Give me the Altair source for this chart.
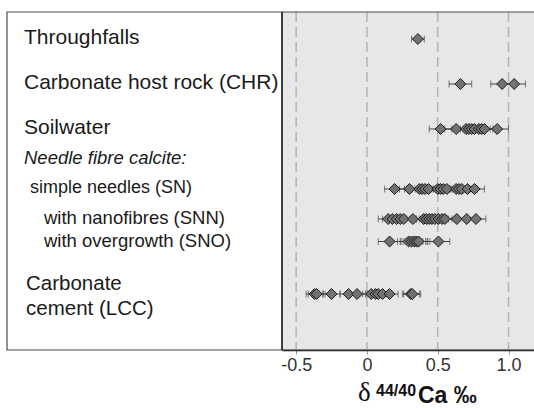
import altair as alt
import pandas as pd

# ---------------- data ----------------
ROWS = [
    "Throughfalls",
    "Carbonate host rock (CHR)",
    "Soilwater",
    "Needle fibre calcite:",
    "simple needles (SN)",
    "with nanofibres (SNN)",
    "with overgrowth (SNO)",
    "Carbonate cement (LCC)",
]

TF = [0.36]
CHR = [0.66, 0.955, 1.04]
SW = [0.52, 0.63, 0.70, 0.72, 0.74, 0.76, 0.79, 0.81, 0.83, 0.92]
SN = [0.195, 0.30, 0.37, 0.39, 0.41, 0.435, 0.50, 0.52, 0.54, 0.565,
      0.63, 0.65, 0.67, 0.71, 0.76]
SNN = [0.15, 0.18, 0.21, 0.235, 0.26, 0.325, 0.40, 0.42, 0.44, 0.46,
       0.48, 0.505, 0.53, 0.55, 0.635, 0.705, 0.77]
SNO = [0.16, 0.295, 0.315, 0.335, 0.35, 0.365, 0.505]
LCC = [-0.37, -0.355, -0.25, -0.13, -0.07, 0.03, 0.06, 0.08, 0.11,
       0.16, 0.31, 0.32]

# analytical uncertainty (2 s.d.) per group
ERR = {
    "Throughfalls": 0.045,
    "Carbonate host rock (CHR)": 0.08,
    "Soilwater": 0.08,
    "simple needles (SN)": 0.07,
    "with nanofibres (SNN)": 0.07,
    "with overgrowth (SNO)": 0.08,
    "Carbonate cement (LCC)": 0.06,
}

SERIES = {
    "Throughfalls": TF,
    "Carbonate host rock (CHR)": CHR,
    "Soilwater": SW,
    "simple needles (SN)": SN,
    "with nanofibres (SNN)": SNN,
    "with overgrowth (SNO)": SNO,
    "Carbonate cement (LCC)": LCC,
}

TICK_VALUES = [-0.5, 0, 0.5, 1.0]
TICK_LABELS = ["-0.5", "0", "0.5", "1.0"]

# ---------------- layout (styling, not data) ----------------
GAPS = [6, 6, 4, 4, 4, 3, 7]  # row steps between consecutive categories
DOMAIN = [ROWS[0]]
for i, g in enumerate(GAPS):
    DOMAIN += [f"_gap{i}_{k}" for k in range(g - 1)]
    DOMAIN.append(ROWS[i + 1])

W, H = 252, 338
FONT = "Liberation Sans"

records = []
for grp, vals in SERIES.items():
    for v in vals:
        records.append({"group": grp, "d": v, "lo": v - ERR[grp], "hi": v + ERR[grp]})
df = pd.DataFrame(records)

yscale = alt.Scale(domain=DOMAIN, range=[27, 282], type="point", padding=0)
xscale = alt.Scale(domain=[-0.6, 1.18], nice=False, zero=False)

label_expr = " : ".join(
    f"datum.value == {v} ? '{t}'" for v, t in zip(TICK_VALUES, TICK_LABELS)
) + " : ''"

# dashed grid lines at the tick values, full plot height
grid_df = pd.DataFrame({"v": TICK_VALUES})
grid = alt.Chart(grid_df).mark_rule(color="#b4b4b4", strokeWidth=1.5,
                                    strokeDash=[10, 5]).encode(
    x=alt.X("v:Q", scale=xscale,
            axis=alt.Axis(values=TICK_VALUES, labelExpr=label_expr, title=None,
                          grid=False,
                          domainColor="#111111", domainWidth=1.5,
                          tickColor="#9a9a9a", tickSize=4,
                          labelFont=FONT, labelFontSize=18, labelColor="#333333",
                          labelPadding=2)),
    y=alt.value(0), y2=alt.value(H),
)

base = alt.Chart(df)
err_rule = base.mark_rule(color="#444444", strokeWidth=1).encode(
    x=alt.X("lo:Q", scale=xscale),
    x2="hi:Q",
    y=alt.Y("group:N", scale=yscale, axis=None),
)
cap_lo = base.mark_tick(color="#444444", thickness=1, size=7).encode(
    x=alt.X("lo:Q", scale=xscale), y=alt.Y("group:N", scale=yscale))
cap_hi = base.mark_tick(color="#444444", thickness=1, size=7).encode(
    x=alt.X("hi:Q", scale=xscale), y=alt.Y("group:N", scale=yscale))
pts = base.mark_point(shape="diamond", filled=True, fill="#727272", stroke="#1c1c1c",
                      strokeWidth=1, size=120, opacity=1).encode(
    x=alt.X("d:Q", scale=xscale), y=alt.Y("group:N", scale=yscale))

one = pd.DataFrame({"k": [0]})
frame = alt.Chart(one).mark_rect(fill="white", fillOpacity=0, stroke="#4a4a4a",
                                 strokeWidth=1.2).encode(
    x=alt.value(-275), x2=alt.value(W + 10), y=alt.value(0), y2=alt.value(H))
left_line = alt.Chart(one).mark_rule(color="#000000", strokeWidth=1.5).encode(
    x=alt.value(0), y=alt.value(0), y2=alt.value(H))


def labels(names, xpos, size, style="normal"):
    d = pd.DataFrame({"group": names, "text": names})
    return alt.Chart(d).mark_text(align="left", baseline="middle", font=FONT,
                                  fontSize=size, fontStyle=style, color="#1a1a1a",
                                  dy=-1).encode(
        x=alt.value(xpos), y=alt.Y("group:N", scale=yscale), text="text:N")


lab_main = labels(ROWS[0:3], -258, 21)
lab_nfc = labels([ROWS[3]], -258, 18.5, "italic")
lab_sn = labels([ROWS[4]], -252, 18)
lab_sub = labels(ROWS[5:7], -238, 18.5)
lcc_df = pd.DataFrame({"group": [ROWS[7]], "text": ["Carbonate\ncement (LCC)"]})
lab_lcc = alt.Chart(lcc_df).mark_text(align="left", baseline="middle", font=FONT,
                                      fontSize=20.5, color="#1a1a1a", lineBreak="\n",
                                      lineHeight=25, dy=-10).encode(
    x=alt.value(-256), y=alt.Y("group:N", scale=yscale), text="text:N")

# axis title: delta 44/40 Ca permil
t_delta = alt.Chart(one).mark_text(align="left", baseline="alphabetic",
                                   font="Liberation Serif", fontSize=27,
                                   color="#111111").encode(
    x=alt.value(76), y=alt.value(389), text=alt.value("δ"))
t_sup = alt.Chart(one).mark_text(align="left", baseline="alphabetic", font=FONT,
                                 fontSize=16, fontWeight="bold",
                                 color="#111111").encode(
    x=alt.value(94), y=alt.value(384), text=alt.value("44/40"))
t_ca = alt.Chart(one).mark_text(align="left", baseline="alphabetic", font=FONT,
                                fontSize=23, fontWeight="bold",
                                color="#111111").encode(
    x=alt.value(136), y=alt.value(391), text=alt.value("Ca ‰"))

chart = alt.layer(
    grid, err_rule, cap_lo, cap_hi, pts, frame, left_line,
    lab_main, lab_nfc, lab_sn, lab_sub, lab_lcc, t_delta, t_sup, t_ca,
).properties(
    width=W, height=H,
    autosize=alt.AutoSizeParams(type="none"),
    padding={"left": 282, "top": 12, "right": 0, "bottom": 58},
    background="white",
).configure_view(stroke=None, fill="#e7e7e9")

chart.save("out.html", embed_options={"renderer": "svg", "actions": False})
